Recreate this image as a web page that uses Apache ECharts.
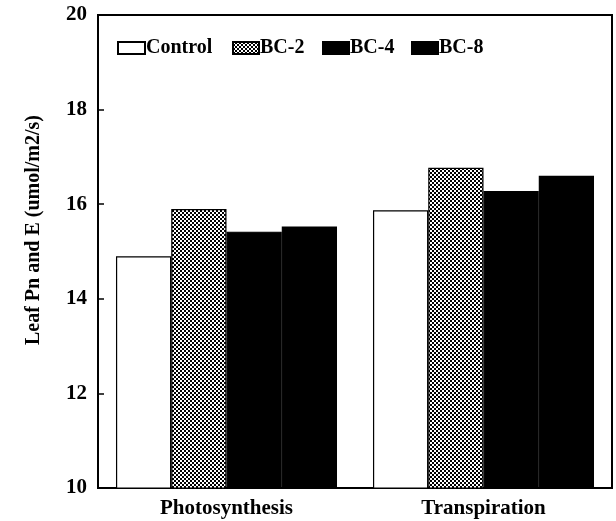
<!DOCTYPE html>
<html>
<head>
<meta charset="utf-8">
<script src="https://cdn.jsdelivr.net/npm/echarts@6/dist/echarts.min.js"></script>
<style>html,body{margin:0;padding:0;background:#fff;}#c{width:616px;height:521px;}</style>
</head>
<body>
<div id="c"></div>
<script>
var categories = ['Photosynthesis', 'Transpiration'];
var seriesNames = ['Control', 'BC-2', 'BC-4', 'BC-8'];
var control = [14.9, 15.87];
var bc2 = [15.9, 16.77];
var bc4 = [15.42, 16.28];
var bc8 = [15.53, 16.6];
var yTicks = [10, 12, 14, 16, 18, 20];
var yTitle = 'Leaf Pn and E (umol/m2/s)';

var cv = document.createElement('canvas');
cv.width = 4; cv.height = 4;
var cx = cv.getContext('2d');
cx.fillStyle = '#000'; cx.fillRect(0, 0, 4, 4);
cx.fillStyle = '#fff'; cx.fillRect(0, 0, 2, 2); cx.fillRect(2, 2, 2, 2);
var checker = { image: cv, repeat: 'repeat' };

var font = '"Liberation Serif", "Times New Roman", serif';
var chart = echarts.init(document.getElementById('c'));
function s(name, data, color) {
  return {
    name: name, type: 'bar', data: data, barGap: '0%', barCategoryGap: '14%',
    itemStyle: { color: color, borderColor: '#000', borderWidth: 1.2 }
  };
}
var legendLefts = [112, 227, 317, 406];
var legends = seriesNames.map(function (n, i) {
  return {
    left: legendLefts[i], top: 33, itemWidth: i === 0 ? 27 : 26, itemHeight: 12, icon: 'rect',
    textStyle: { fontFamily: font, fontWeight: 'bold', fontSize: 20, color: '#000', padding: [0, 0, 0, -4] },
    data: [n]
  };
});
chart.setOption({
  animation: false,
  backgroundColor: '#fff',
  grid: { left: 98, right: 4, top: 15, bottom: 33, show: true, borderColor: '#000', borderWidth: 2, backgroundColor: 'transparent' },
  legend: legends,
  graphic: [{
    type: 'text', x: 34, y: 230, rotation: Math.PI / 2,
    style: { text: yTitle, fontFamily: font, fontWeight: 'bold', fontSize: 20, fill: '#000', align: 'center', verticalAlign: 'middle' }
  }],
  xAxis: {
    type: 'category', data: categories,
    axisLine: { lineStyle: { color: '#000', width: 2 } },
    axisTick: { show: false },
    axisLabel: { fontFamily: font, fontWeight: 'bold', fontSize: 21, color: '#000', margin: 10 }
  },
  yAxis: {
    type: 'value', min: yTicks[0], max: yTicks[yTicks.length - 1], interval: 2,
    axisLine: { show: true, lineStyle: { color: '#000', width: 2 } },
    axisTick: { show: true, inside: true, length: 6, lineStyle: { color: '#000', width: 1.5 } },
    splitLine: { show: false },
    axisLabel: { fontFamily: font, fontWeight: 'bold', fontSize: 21, color: '#000', margin: 11 }
  },
  series: [
    s('Control', control, '#fff'),
    s('BC-2', bc2, checker),
    s('BC-4', bc4, '#000'),
    s('BC-8', bc8, '#000')
  ]
});
</script>
</body>
</html>
